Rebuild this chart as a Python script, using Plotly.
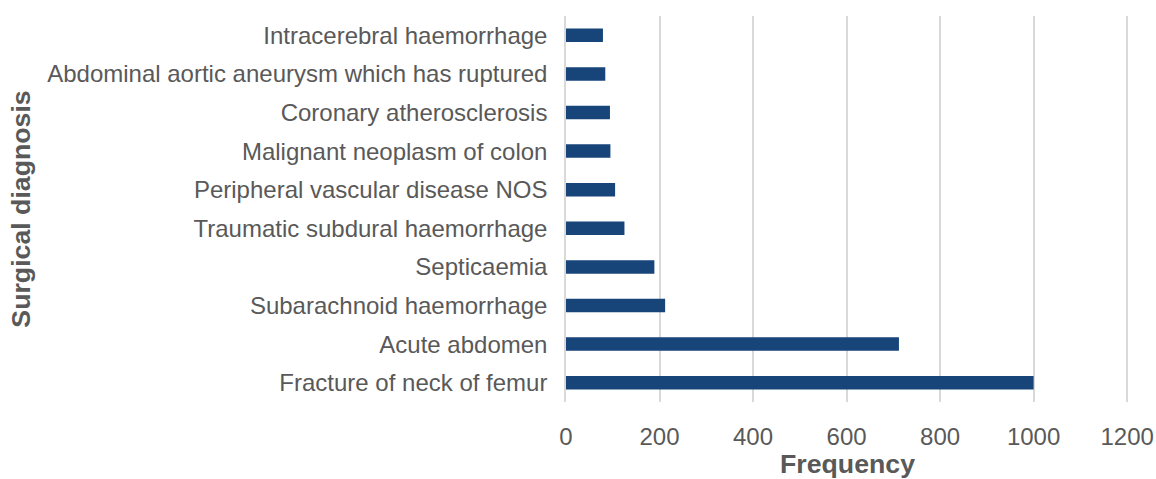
import plotly.graph_objects as go

categories = [
    "Fracture of neck of femur",
    "Acute abdomen",
    "Subarachnoid haemorrhage",
    "Septicaemia",
    "Traumatic subdural haemorrhage",
    "Peripheral vascular disease NOS",
    "Malignant neoplasm of colon",
    "Coronary atherosclerosis",
    "Abdominal aortic aneurysm which has ruptured",
    "Intracerebral haemorrhage",
]
frequency = [1000, 712, 212, 189, 125, 105, 95, 94, 84, 79]
x_ticks = [0, 200, 400, 600, 800, 1000, 1200]

fig = go.Figure(
    go.Bar(
        y=categories,
        x=frequency,
        orientation="h",
        marker=dict(color="#17457a", line=dict(width=0)),
        width=0.35,
    )
)

font_family = "Liberation Sans, Arial, sans-serif"
fig.update_layout(
    width=1156,
    height=479,
    margin=dict(l=566, r=27, t=16, b=77),
    plot_bgcolor="white",
    paper_bgcolor="white",
    showlegend=False,
    font=dict(family=font_family, color="#595959", size=24),
)
fig.update_xaxes(
    range=[0, 1204],
    tickvals=x_ticks,
    ticktext=[str(v) for v in x_ticks],
    showgrid=True,
    gridcolor="#d9d9d9",
    gridwidth=1.5,
    zeroline=False,
    showline=False,
    ticks="",
    automargin=False,
    ticklabelstandoff=18,
    tickfont=dict(size=24, color="#595959"),
    title=dict(text="<b>Frequency</b>", font=dict(size=26.7, color="#595959"), standoff=7),
)
fig.update_yaxes(
    showgrid=False,
    showline=True,
    linecolor="#d9d9d9",
    linewidth=1.5,
    ticks="",
    automargin=False,
    ticklabelstandoff=12,
    tickfont=dict(size=24, color="#595959"),
    title=dict(text="<b>Surgical diagnosis</b>", font=dict(size=26.7, color="#595959"), standoff=9),
)
fig.write_html(
    "out.html",
    config={"displayModeBar": False},
    post_script="document.body.style.margin='0';document.body.style.overflow='hidden';",
)
